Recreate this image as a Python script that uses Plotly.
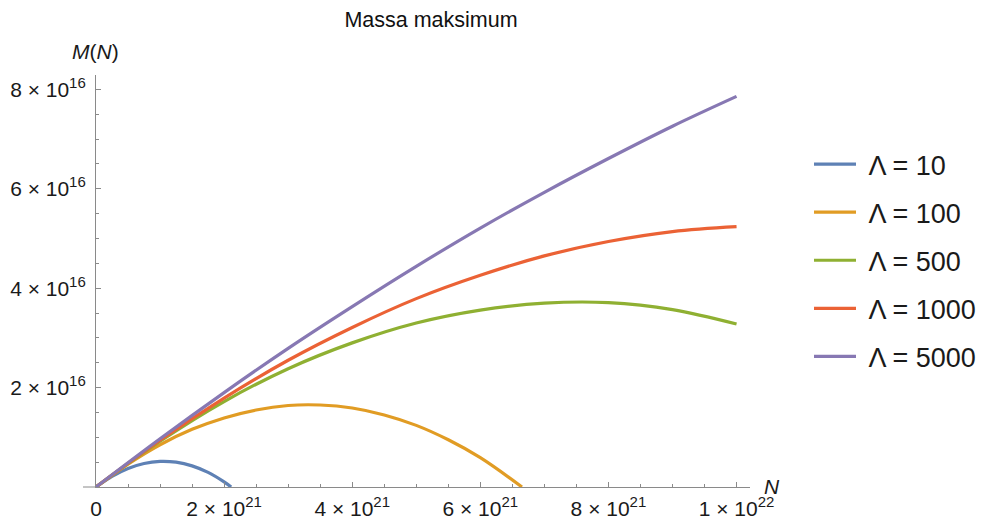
import plotly.graph_objects as go

# ---- data (N in units of 1e21, M in units of 1e16) ----
N_L10 = [0, 0.25, 0.5, 0.75, 1.0, 1.25, 1.5, 1.75, 2.0, 2.11]
M_L10 = [0, 0.216, 0.374, 0.474, 0.515, 0.499, 0.425, 0.293, 0.102, 0]

N_L100 = [0, 0.5, 1, 1.5, 2, 2.5, 3, 3.5, 4, 4.5, 5, 5.5, 6, 6.65]
M_L100 = [0, 0.46, 0.85, 1.16, 1.39, 1.55, 1.64, 1.65, 1.59, 1.45, 1.24, 0.95, 0.59, 0]

N_BIG = [0, 1, 2, 3, 4, 5, 6, 7, 8, 9, 10]
M_L500 = [0, 0.92, 1.72, 2.38, 2.90, 3.30, 3.56, 3.70, 3.71, 3.57, 3.28]
M_L1000 = [0, 0.94, 1.79, 2.55, 3.21, 3.79, 4.26, 4.65, 4.94, 5.14, 5.24]
M_L5000 = [0, 0.97, 1.90, 2.79, 3.63, 4.44, 5.21, 5.93, 6.61, 7.26, 7.86]

LABELS = ["Λ = 10", "Λ = 100", "Λ = 500", "Λ = 1000", "Λ = 5000"]
COLORS = ["#5E81B5", "#E19C24", "#8FB032", "#EB6235", "#8778B3"]

SUP = '<sup><span style="font-size:15px">{}</span></sup>'
X_TICKS = [0, 2, 4, 6, 8, 10]
X_TICKTEXT = ["0", "2 × 10" + SUP.format("21"), "4 × 10" + SUP.format("21"),
              "6 × 10" + SUP.format("21"), "8 × 10" + SUP.format("21"),
              "1 × 10" + SUP.format("22")]
X_MINOR = [0.5 * i for i in range(21)]
Y_TICKS = [2, 4, 6, 8]
Y_TICKTEXT = ["2 × 10" + SUP.format("16"), "4 × 10" + SUP.format("16"),
              "6 × 10" + SUP.format("16"), "8 × 10" + SUP.format("16")]
Y_MINOR = [0.5 * i for i in range(17)]

NS = 1e21
MS = 1e16

series = [(N_L10, M_L10), (N_L100, M_L100), (N_BIG, M_L500), (N_BIG, M_L1000), (N_BIG, M_L5000)]

FONT = "Liberation Sans, Arial, sans-serif"
AXC = "#8a8a8a"

fig = go.Figure()
for (xs, ys), lab, col in zip(series, LABELS, COLORS):
    fig.add_trace(go.Scatter(
        x=[v * NS for v in xs], y=[v * MS for v in ys], mode="lines",
        name="\u00a0" + lab, legendgroup=lab,
        line=dict(color=col, width=3.2, shape="spline", smoothing=1.0),
    ))

PW = 987 - 96 - 237
PH = 521 - 75 - 34

fig.update_layout(
    width=987, height=521,
    margin=dict(l=96, r=237, t=75, b=34, autoexpand=False),
    paper_bgcolor="white", plot_bgcolor="white",
    font=dict(family=FONT, color="#1a1a1a"),
    title=dict(text="Massa maksimum", font=dict(size=21.5, color="#111"),
               x=431 / 987, xref="container", xanchor="center",
               y=1 - 19 / 521, yref="container", yanchor="middle"),
    xaxis=dict(range=[0, 10.21 * NS], showgrid=False, zeroline=False,
               showline=True, linecolor=AXC, linewidth=1,
               ticks="inside", ticklen=5, tickcolor=AXC, tickwidth=1,
               tickmode="array", tickvals=[v * NS for v in X_TICKS], ticktext=X_TICKTEXT,
               tickfont=dict(size=21, color="#1a1a1a"), ticklabelstandoff=3,
               minor=dict(tickmode="array", tickvals=[v * NS for v in X_MINOR],
                          ticks="inside", ticklen=3, tickcolor=AXC, tickwidth=1),
               automargin=False, fixedrange=True),
    yaxis=dict(range=[0, 8.29 * MS], showgrid=False, zeroline=False,
               showline=True, linecolor=AXC, linewidth=1,
               ticks="inside", ticklen=5, tickcolor=AXC, tickwidth=1,
               tickmode="array", tickvals=[v * MS for v in Y_TICKS], ticktext=Y_TICKTEXT,
               tickfont=dict(size=21, color="#1a1a1a"), ticklabelstandoff=5,
               minor=dict(tickmode="array", tickvals=[v * MS for v in Y_MINOR],
                          ticks="inside", ticklen=3, tickcolor=AXC, tickwidth=1),
               automargin=False, fixedrange=True),
    legend=dict(x=(809 - 96) / PW, xanchor="left", y=(487 - 140) / PH, yanchor="top",
                font=dict(size=27, color="#1a1a1a", family=FONT),
                itemwidth=42, tracegroupgap=10, bgcolor="rgba(0,0,0,0)"),
    shapes=[dict(type="line", xref="paper", yref="paper",
                 x0=-13 / PW, x1=0, y0=0, y1=0, line=dict(color=AXC, width=1))],
    annotations=[
        dict(text="<i>M</i>(<i>N</i>)", xref="paper", yref="paper",
             x=-1 / PW, y=(487 - 52) / PH, xanchor="center", yanchor="middle",
             showarrow=False, font=dict(size=21, color="#1a1a1a")),
        dict(text="<i>N</i>", xref="paper", yref="paper",
             x=(772 - 96) / PW, y=(487 - 486) / PH, xanchor="center", yanchor="middle",
             showarrow=False, font=dict(size=21, color="#1a1a1a")),
    ],
)

fig.write_html("out.html")
